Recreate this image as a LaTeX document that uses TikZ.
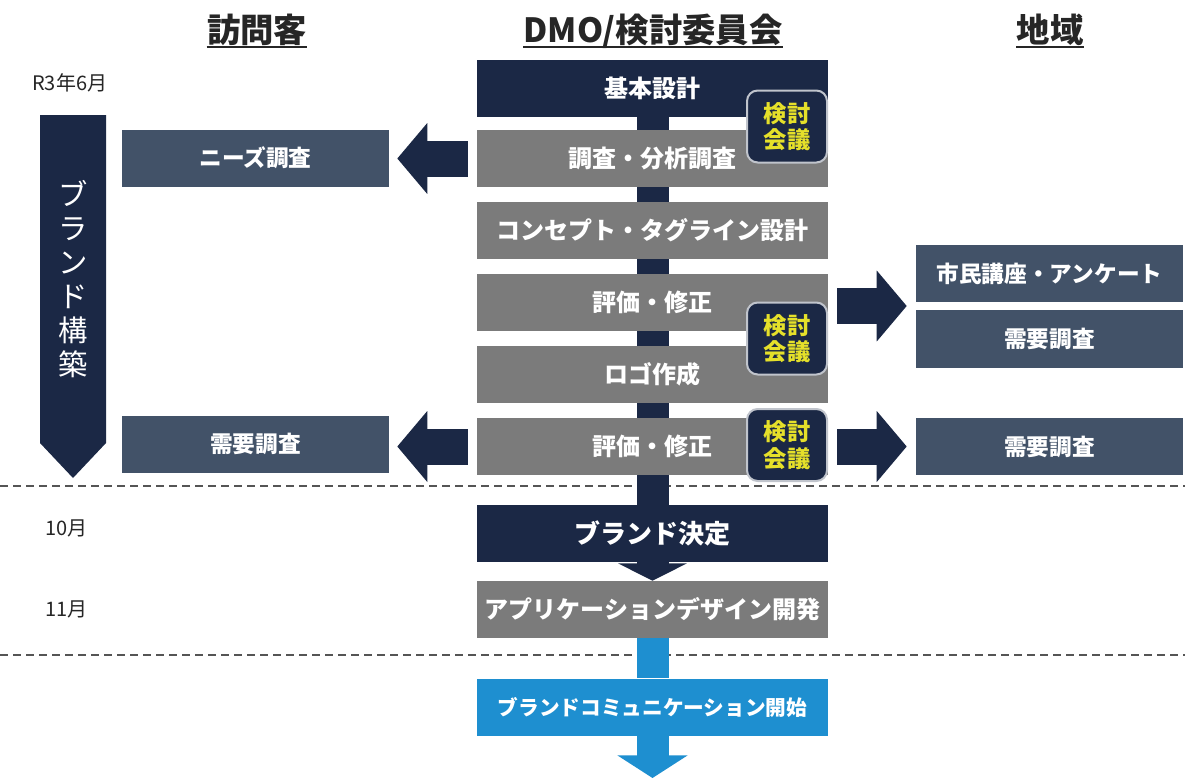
\documentclass[tikz,border=0pt]{standalone}
\usepackage{fontspec}
\setmainfont{Noto Sans CJK JP}
\usetikzlibrary{arrows.meta,backgrounds,calc}
\definecolor{navy}{HTML}{1B2845}
\definecolor{boxgray}{HTML}{7B7B7B}
\definecolor{slate}{HTML}{425268}
\definecolor{skyblue}{HTML}{1E8FD0}
\definecolor{yel}{HTML}{E5E02A}
\definecolor{badgeline}{HTML}{C0C4CC}
\definecolor{dashgray}{HTML}{555555}
\definecolor{headtext}{HTML}{262626}
\begin{document}
\begin{tikzpicture}[x=0.75pt,y=-0.75pt,
  cbox/.style={minimum width=263.25pt, minimum height=42.75pt, inner sep=0pt, text=white,
    font=\fontsize{18}{21}\selectfont\bfseries},
  sbox/.style={fill=slate, minimum width=200.25pt, minimum height=42.75pt, inner sep=0pt, text=white,
    font=\fontsize{17}{20}\selectfont\bfseries},
  badge/.style={fill=navy, draw=badgeline, line width=1.5pt, rounded corners=8pt,
    minimum width=60pt, minimum height=54pt, inner sep=0pt, align=center, text=yel,
    font=\fontsize{17.5}{20}\selectfont\bfseries},
  header/.style={anchor=base, inner sep=0pt, text=headtext, font=\fontsize{25}{28}\selectfont\bfseries},
  month/.style={anchor=west, inner sep=0pt, text=headtext, font=\fontsize{15}{17}\selectfont},
  harrow/.style={draw=navy, line width=27pt, -{Triangle[width=52pt,length=22.5pt]}},
  spine/.style={draw=navy, line width=24pt},
  dline/.style={draw=dashgray, line width=1.5pt, dash pattern=on 6pt off 3.75pt}
]
\useasboundingbox (0,0) rectangle (1185,778);

% headers
\node[header] (h1) at (257,42) {訪問客};
\node[header] (h2) at (653,42) {DMO/検討委員会};
\node[header] (h3) at (1050,42) {地域};
\foreach \h in {h1,h2,h3}{\draw[headtext, line width=1.3pt] ([yshift=-4pt]\h.base west) -- ([yshift=-4pt]\h.base east);}

% months
\node[month] (m1) at (32,83) {R3年6月};
\node[month] (m2) at (45,528) {10月};
\node[month] (m3) at (45,609) {11月};

% tall arrow
\fill[navy] (40,115) -- (106,115) -- (106,443) -- (73,478) -- (40,443) -- cycle;
\node[text=white, align=center, inner sep=0pt, font=\fontsize{22}{25.5}\selectfont] (bk) at (73,279) {ブ\\ラ\\ン\\ド\\構\\築};

% center boxes
\node[cbox, fill=navy] (b1) at (652.5,88) {基本設計};
\node[cbox, fill=boxgray] (b2) at (652.5,158.5) {調査・分析調査};
\node[cbox, fill=boxgray] (b3) at (652.5,230.5) {コンセプト・タグライン設計};
\node[cbox, fill=boxgray] (b4) at (652.5,302.5) {評価・修正};
\node[cbox, fill=boxgray] (b5) at (652.5,374.5) {ロゴ作成};
\node[cbox, fill=boxgray] (b6) at (652.5,446.5) {評価・修正};
\node[cbox, fill=navy, font=\fontsize{19.5}{22}\selectfont\bfseries] (b7) at (652.5,533.5) {ブランド決定};
\node[cbox, fill=boxgray] (b8) at (652.5,609.5) {アプリケーションデザイン開発};
\node[cbox, fill=skyblue, font=\fontsize{15.5}{18}\selectfont\bfseries] (b9) at (652.5,707) {ブランドコミュニケーション開始};

% side boxes
\node[sbox] (l1) at (255.5,158) {ニーズ調査};
\node[sbox] (l2) at (255.5,444) {需要調査};
\node[sbox] (r1) at (1049.5,273.5) {市民講座・アンケート};
\node[sbox, minimum height=43.5pt] (r2) at (1049.5,339) {需要調査};
\node[sbox] (r3) at (1049.5,446.5) {需要調査};

% badges
\node[badge] (k1) at (787,126.5) {検討\\会議};
\node[badge] (k2) at (787,338.5) {検討\\会議};
\node[badge] (k3) at (787,445) {検討\\会議};

% background: white page, dashed lines and spine
\begin{pgfonlayer}{background}
  \fill[white] (0,0) rectangle (1185,778);
  \coordinate (d1l) at (0,486); \coordinate (d1r) at (1185,486);
  \coordinate (d2l) at (0,655); \coordinate (d2r) at (1185,655);
  \draw[dline] (d1l) -- (d1r);
  \draw[dline] (d2l) -- (d2r);
  \draw[spine] (b1.south) -- (b7.north);
  \draw[draw=navy, line width=24pt, -{Triangle[width=51pt,length=13pt]}] (b7.south) -- (b8.north);
  \draw[draw=skyblue, line width=24pt] (b8.south) -- (b9.north);
\end{pgfonlayer}
\coordinate (bend) at (652.5,778);
\draw[draw=skyblue, line width=24pt, -{Triangle[width=52pt,length=17pt]}] (b9.south) -- (bend);

% horizontal arrows
\draw[harrow, shorten <=6.75pt, shorten >=6pt] (b2.west) -- (b2.west -| l1.east);
\draw[harrow, shorten <=6.75pt, shorten >=6pt] (b6.west) -- (b6.west -| l2.east);
\coordinate (rm) at ($(r1.south west)!0.5!(r2.north west)$);
\draw[harrow, shorten <=6.75pt, shorten >=6.75pt] (b4.east |- rm) -- (rm);
\draw[harrow, shorten <=6.75pt, shorten >=6.75pt] (b6.east) -- (b6.east -| r3.west);
\end{tikzpicture}
\end{document}
